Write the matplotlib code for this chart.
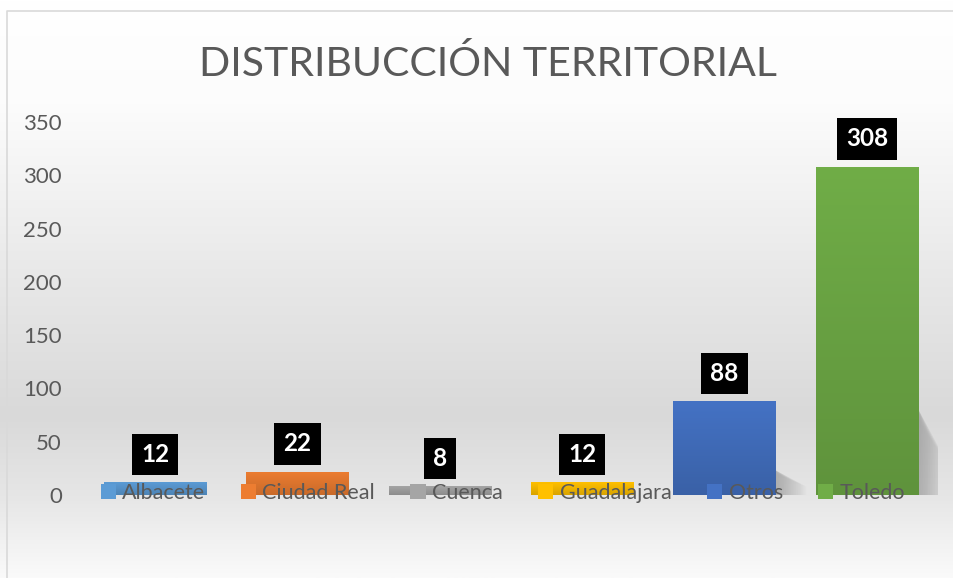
import numpy as np
import matplotlib.pyplot as plt
from matplotlib.patches import Patch, Polygon
from matplotlib.colors import LinearSegmentedColormap, to_rgb

# datos del gráfico
provincias = ['Albacete', 'Ciudad Real', 'Cuenca', 'Guadalajara', 'Otros', 'Toledo']
valores = [12, 22, 8, 12, 88, 308]
colores = ['#5B9BD5', '#ED7D31', '#A5A5A5', '#FFC000', '#4472C4', '#70AD47']
titulo = 'DISTRIBUCCIÓN TERRITORIAL'
ticks_y = [0, 50, 100, 150, 200, 250, 300, 350]

plt.rcParams['font.family'] = ['Lato', 'DejaVu Sans']
GRIS = '#595959'


def oscurecer(c, f):
    r, g, b = to_rgb(c)
    return (r * f, g * f, b * f)


fig = plt.figure(figsize=(9.54, 5.78), dpi=100)

# fondo con degradado
fondo = fig.add_axes([0, 0, 1, 1], zorder=-5)
fondo.set_axis_off()
paradas = [(0.0, '#ffffff'), (0.18, '#fcfcfc'), (0.45, '#eaeaea'),
           (0.72, '#d9d9d9'), (0.86, '#e6e6e6'), (1.0, '#fafafa')]
cmap_fondo = LinearSegmentedColormap.from_list('fondo', paradas)
fondo.imshow(np.linspace(0, 1, 256).reshape(-1, 1), cmap=cmap_fondo, aspect='auto',
             extent=[0, 1, 0, 1], origin='upper')
fondo.set_xlim(0, 1)
fondo.set_ylim(0, 1)
# marco
fondo.plot([7.5 / 954, 7.5 / 954, 1], [0, 1 - 10.5 / 578, 1 - 10.5 / 578],
           color='#d9d9d9', lw=1.2)

ax = fig.add_axes([84 / 954, 1 - 495 / 578, (938 - 84) / 954, (495 - 122) / 578])
ax.patch.set_alpha(0)
x = np.arange(len(provincias))
ancho = 0.72
barras = ax.bar(x, valores, width=ancho, color=colores, zorder=3)

# degradado en cada barra y sombra suave
for xi, v, c, b in zip(x, valores, colores, barras):
    cm = LinearSegmentedColormap.from_list('b', [c, oscurecer(c, 0.85)])
    img = ax.imshow(np.linspace(0, 1, 100).reshape(-1, 1), cmap=cm, aspect='auto',
                    extent=[xi - ancho / 2, xi + ancho / 2, 0, v], origin='upper', zorder=4)
    img.set_clip_path(b)
    if v > 50:
        n = 18
        for k in range(n):
            d = 0.01 + 0.012 * k
            sombra = Polygon([(xi + ancho / 2 - 0.01, 0), (xi + ancho / 2 + d, 0),
                              (xi + ancho / 2 + d, v * 0.22 * (1 - k / (1.6 * n))),
                              (xi + ancho / 2 - 0.01, v * 0.27)],
                             closed=True, color='#808080', alpha=0.035, lw=0, zorder=2)
            ax.add_patch(sombra)

# etiquetas de datos
for xi, v in zip(x, valores):
    ax.annotate(str(v), (xi, v), xytext=(0, 20), textcoords='offset points',
                ha='center', va='center', fontsize=17.5, fontweight='bold', color='white',
                bbox=dict(boxstyle='square,pad=0.38', fc='black', ec='none'), zorder=6)

ax.set_xlim(-0.5, len(provincias) - 0.5)
ax.set_ylim(0, 350)
ax.set_yticks(ticks_y)
ax.set_xticks([])
ax.tick_params(axis='y', length=0, pad=16, labelsize=16, labelcolor=GRIS)
for s in ax.spines.values():
    s.set_visible(False)

fig.text(488 / 954, 1 - 76 / 578, titulo, ha='center', va='baseline',
         fontsize=29.5, color=GRIS)

handles = [Patch(facecolor=c, edgecolor='none') for c in colores]
leg = fig.legend(handles, provincias, loc='center', ncol=6,
                 bbox_to_anchor=(503 / 954, 1 - 493 / 578), frameon=False,
                 fontsize=15.5, labelcolor=GRIS, handlelength=0.7, handleheight=0.7,
                 handletextpad=0.3, columnspacing=1.65, borderpad=0)
leg.set_zorder(10)

fig.savefig('out.png', dpi=100)
